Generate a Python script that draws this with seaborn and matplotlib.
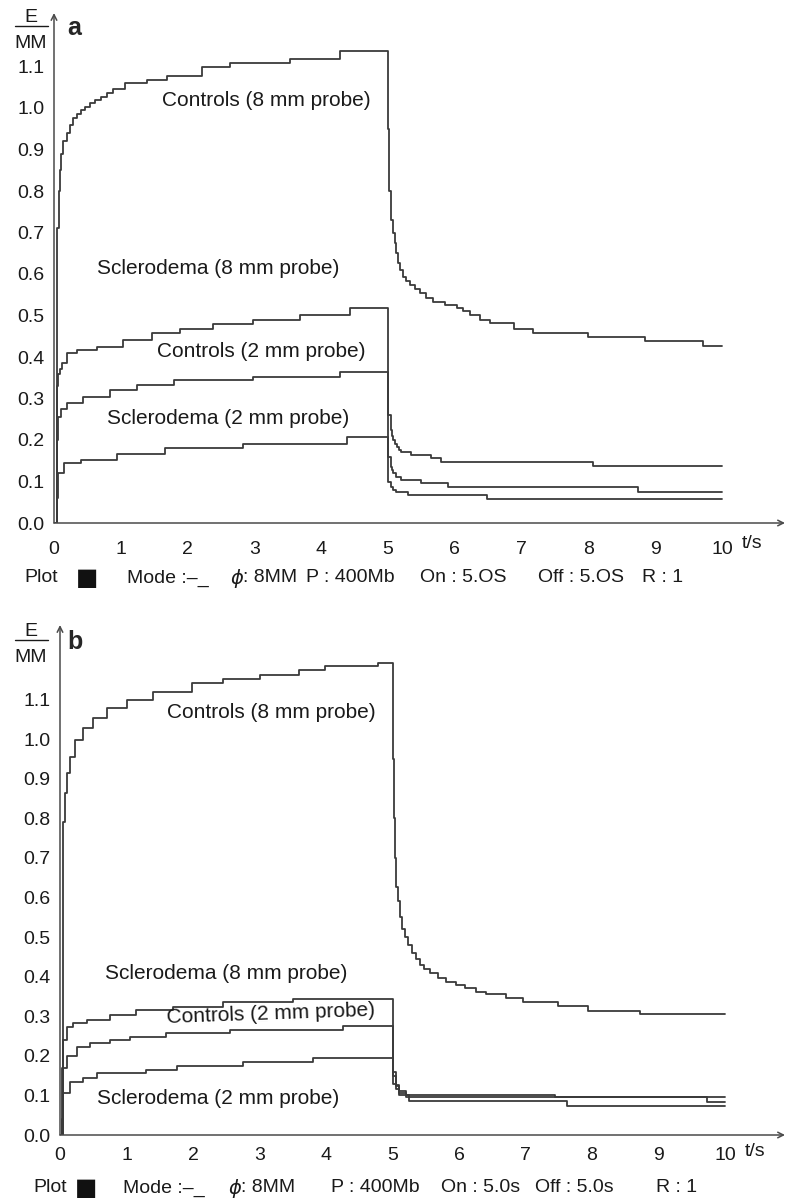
# Stress relaxation curves, panels a and b

import numpy as np
import pandas as pd
import matplotlib
matplotlib.use("Agg")
import matplotlib.pyplot as plt
from matplotlib.lines import Line2D
import seaborn as sns

sns.set_style("white")
plt.rcParams['font.family'] = ['Liberation Sans', 'DejaVu Sans']

# Figure size in pixels
W, H = 788, 1201
line_color = '#3a3a3a'
axis_color = '#4a4a4a'
tick_size = 14
label_size = 15
footer_size = 14

# Axis ticks
x_ticks = list(range(0, 11))
y_ticks = [0.0, 0.1, 0.2, 0.3, 0.4, 0.5, 0.6, 0.7, 0.8, 0.9, 1.0, 1.1]

# ---- Panel a data (time in s, E/MM) ----
a_ctrl8_t = [0.03, 0.05, 0.07, 0.09, 0.11, 0.14, 0.19, 0.24, 0.29, 0.35, 0.41, 0.47, 0.54, 0.62, 0.71, 0.80, 0.89,
             1.06, 1.39, 1.69, 2.21, 2.63, 3.53, 4.28,
             5.00, 5.02, 5.04, 5.07, 5.10, 5.12, 5.15, 5.18, 5.22, 5.27, 5.33, 5.40, 5.48, 5.57, 5.67, 5.85,
             6.03, 6.13, 6.23, 6.38, 6.53, 6.88, 7.17, 8.00, 8.85, 9.71, 10.0]
a_ctrl8_e = [0.0, 0.71, 0.80, 0.85, 0.89, 0.92, 0.94, 0.96, 0.975, 0.985, 0.995, 1.003, 1.012, 1.02, 1.027, 1.036, 1.045,
             1.06, 1.068, 1.077, 1.099, 1.108, 1.118, 1.137,
             0.95, 0.80, 0.73, 0.70, 0.675, 0.65, 0.626, 0.61, 0.593, 0.582, 0.573, 0.563, 0.554, 0.543, 0.533, 0.525,
             0.518, 0.51, 0.501, 0.49, 0.482, 0.467, 0.458, 0.448, 0.438, 0.427, 0.427]

a_scl8_t = [0.02, 0.04, 0.06, 0.09, 0.12, 0.19, 0.35, 0.64, 1.03, 1.46, 1.89, 2.38, 2.98, 3.68, 4.43,
            5.00, 5.04, 5.06, 5.08, 5.10, 5.13, 5.16, 5.20, 5.35, 5.65, 5.80, 8.07, 10.0]
a_scl8_e = [0.0, 0.33, 0.36, 0.37, 0.385, 0.41, 0.418, 0.424, 0.44, 0.457, 0.468, 0.48, 0.489, 0.501, 0.518,
            0.26, 0.224, 0.21, 0.20, 0.19, 0.184, 0.176, 0.17, 0.165, 0.157, 0.147, 0.137, 0.137]

a_ctrl2_t = [0.02, 0.04, 0.06, 0.10, 0.20, 0.44, 0.84, 1.24, 1.79, 2.98, 4.28,
             5.00, 5.04, 5.06, 5.08, 5.12, 5.20, 5.50, 5.90, 8.74, 10.0]
a_ctrl2_e = [0.0, 0.20, 0.255, 0.275, 0.289, 0.304, 0.32, 0.332, 0.345, 0.351, 0.363,
             0.16, 0.135, 0.127, 0.12, 0.111, 0.104, 0.096, 0.087, 0.075, 0.075]

a_scl2_t = [0.02, 0.04, 0.06, 0.15, 0.40, 0.94, 1.66, 2.83, 4.38,
            5.00, 5.05, 5.08, 5.12, 5.30, 6.48, 10.0]
a_scl2_e = [0.0, 0.06, 0.12, 0.145, 0.152, 0.166, 0.18, 0.19, 0.207,
            0.10, 0.087, 0.08, 0.075, 0.067, 0.058, 0.058]

# ---- Panel b data ----
b_ctrl8_t = [0.02, 0.04, 0.07, 0.10, 0.15, 0.23, 0.35, 0.50, 0.70, 1.00, 1.40, 1.98, 2.45, 3.00, 3.60, 3.98, 4.78,
             5.00, 5.02, 5.04, 5.06, 5.08, 5.11, 5.15, 5.19, 5.24, 5.29, 5.35, 5.41, 5.48, 5.56, 5.68, 5.81, 5.95,
             6.09, 6.25, 6.40, 6.70, 6.96, 7.49, 7.94, 8.72, 10.0]
b_ctrl8_e = [0.0, 0.79, 0.864, 0.914, 0.955, 0.997, 1.028, 1.053, 1.078, 1.098, 1.119, 1.141, 1.152, 1.162, 1.174, 1.184, 1.192,
             0.95, 0.80, 0.70, 0.626, 0.59, 0.55, 0.52, 0.50, 0.48, 0.46, 0.445, 0.43, 0.42, 0.409, 0.397, 0.386, 0.378,
             0.37, 0.362, 0.355, 0.345, 0.336, 0.326, 0.313, 0.305, 0.305]

b_scl8_t = [0.02, 0.05, 0.10, 0.20, 0.40, 0.75, 1.15, 1.70, 2.45, 3.50, 5.00, 5.05, 5.10, 5.20, 7.44, 10.0]
b_scl8_e = [0.0, 0.24, 0.273, 0.283, 0.29, 0.303, 0.316, 0.323, 0.336, 0.343, 0.16, 0.126, 0.11, 0.101, 0.095, 0.095]

b_ctrl2_t = [0.02, 0.03, 0.10, 0.25, 0.45, 0.75, 1.05, 1.60, 2.56, 4.26, 5.00, 5.05, 5.10, 5.20, 9.73, 10.0]
b_ctrl2_e = [0.0, 0.17, 0.20, 0.222, 0.232, 0.24, 0.248, 0.257, 0.265, 0.275, 0.15, 0.125, 0.105, 0.097, 0.083, 0.083]

b_scl2_t = [0.02, 0.03, 0.05, 0.15, 0.35, 0.55, 1.30, 1.76, 2.75, 3.80, 5.00, 5.05, 5.10, 5.25, 7.62, 10.0]
b_scl2_e = [0.0, 0.04, 0.106, 0.134, 0.144, 0.157, 0.164, 0.174, 0.184, 0.195, 0.13, 0.115, 0.10, 0.086, 0.073, 0.073]

# Curve labels: text, left x (s), centre y (E/MM), rotation
a_labels = [('Controls (8 mm probe)', 1.62, 1.017, 0),
            ('Sclerodema (8 mm probe)', 0.64, 0.614, 0),
            ('Controls (2 mm probe)', 1.54, 0.414, 0),
            ('Sclerodema (2 mm probe)', 0.79, 0.253, 0)]
b_labels = [('Controls (8 mm probe)', 1.61, 1.068, 0),
            ('Sclerodema (8 mm probe)', 0.68, 0.407, 0),
            ('Controls (2 mm probe)', 1.61, 0.297, 2),
            ('Sclerodema (2 mm probe)', 0.56, 0.091, 0)]

# footer: Plot, square, Mode, phi, ': 8MM', P, On, Off, R
a_footer = ['Plot', '\u25a0', 'Mode :\u2013_', r'$\phi$', ': 8MM', 'P : 400Mb', 'On : 5.OS', 'Off : 5.OS', 'R : 1']
b_footer = ['Plot', '\u25a0', 'Mode :\u2013_', r'$\phi$', ': 8MM', 'P : 400Mb', 'On : 5.0s', 'Off : 5.0s', 'R : 1']
a_footer_x = [24, 76, 127, 230, 243, 306, 420, 538, 642]
b_footer_x = [33, 75, 123, 228, 241, 331, 441, 535, 656]


def make_frame(curves):
    rows = []
    for name, (t, e) in curves.items():
        rows.append(pd.DataFrame({'t': t, 'E': e, 'curve': name}))
    return pd.concat(rows, ignore_index=True)


df_a = make_frame({'ctrl8': (a_ctrl8_t, a_ctrl8_e), 'scl8': (a_scl8_t, a_scl8_e),
                   'ctrl2': (a_ctrl2_t, a_ctrl2_e), 'scl2': (a_scl2_t, a_scl2_e)})
df_b = make_frame({'ctrl8': (b_ctrl8_t, b_ctrl8_e), 'scl8': (b_scl8_t, b_scl8_e),
                   'ctrl2': (b_ctrl2_t, b_ctrl2_e), 'scl2': (b_scl2_t, b_scl2_e)})


def px_rect(x0, x1, y_top, y_bottom):
    # pixel box -> figure fractions
    return [x0 / W, (H - y_bottom) / H, (x1 - x0) / W, (y_bottom - y_top) / H]


fig = plt.figure(figsize=(W / 100, H / 100), dpi=100)


def draw_panel(rect, xmax, ymax, df, labels, letter, footer, footer_x, footer_y, frac_y, xpad):
    ax = fig.add_axes(rect)
    sns.lineplot(data=df, x='t', y='E', units='curve', estimator=None, sort=False,
                 color=line_color, lw=1.3, drawstyle='steps-post', ax=ax, legend=False)
    ax.set_xlim(0, xmax)
    ax.set_ylim(0, ymax)
    for s in ax.spines.values():
        s.set_visible(False)
    ax.set_xticks(x_ticks)
    ax.set_yticks(y_ticks)
    ax.set_yticklabels(['{:.1f}'.format(v) for v in y_ticks])
    ax.tick_params(axis='both', direction='out', length=4, width=1, color=axis_color,
                   labelsize=tick_size, labelcolor='#1a1a1a')
    ax.tick_params(axis='x', pad=xpad)
    ax.tick_params(axis='y', pad=3)
    ax.set_xlabel('')
    ax.set_ylabel('')
    ax.grid(False)

    # axes with arrow heads
    ax.annotate('', xy=(1, 0), xytext=(0, 0), xycoords='axes fraction',
                arrowprops=dict(arrowstyle='->', color=axis_color, lw=1.1, shrinkA=0, shrinkB=0))
    ax.annotate('', xy=(0, 1), xytext=(0, 0), xycoords='axes fraction',
                arrowprops=dict(arrowstyle='->', color=axis_color, lw=1.1, shrinkA=0, shrinkB=0))

    for text, x, y, rot in labels:
        ax.text(x, y, text, fontsize=label_size, ha='left', va='center', rotation=rot,
                rotation_mode='anchor', color='#1a1a1a')

    # t/s unit next to the last tick label
    lab_y = -(xpad + 4 + 8) * 0.72
    ax.annotate('t/s', xy=(10.3, 0), xycoords='data', xytext=(0, lab_y), textcoords='offset points',
                fontsize=tick_size, ha='left', va='center', color='#1a1a1a', annotation_clip=False)

    # E / MM fraction label and panel letter
    fig.text(31 / W, 1 - (frac_y - 8) / H, 'E', fontsize=tick_size, ha='center', va='center', color='#1a1a1a')
    fig.text(31 / W, 1 - (frac_y + 18) / H, 'MM', fontsize=tick_size, ha='center', va='center', color='#1a1a1a')
    fig.add_artist(Line2D([15 / W, 48 / W], [1 - frac_y / H, 1 - frac_y / H], color='#1a1a1a', lw=1))
    fig.text(67 / W, 1 - (frac_y + 2) / H, letter, fontsize=18, fontweight='bold', ha='left', va='center')

    # footer line
    for i, (txt, x) in enumerate(zip(footer, footer_x)):
        if i == 1:
            fig.text(x / W, 1 - footer_y / H, txt, fontsize=17, ha='left', va='center',
                     family=['DejaVu Sans'], color='#111111')
        else:
            fig.text(x / W, 1 - footer_y / H, txt, fontsize=footer_size, ha='left', va='center',
                     color='#1a1a1a')
    return ax


# Panel a: y axis at x=54 px, zero at y=523 px, 66.8 px/s, 415 px per unit
draw_panel(px_rect(54, 785, 13, 523), 731 / 66.8, 510 / 415, df_a, a_labels, 'a', a_footer,
           a_footer_x, 578, 26, 9)

# Panel b: y axis at x=60 px, zero at y=1135 px, 66.5 px/s, 396 px per unit
draw_panel(px_rect(60, 785, 625, 1135), 725 / 66.5, 510 / 396, df_b, b_labels, 'b', b_footer,
           b_footer_x, 1188, 640, 5)

fig.savefig('out.png', dpi=100)
